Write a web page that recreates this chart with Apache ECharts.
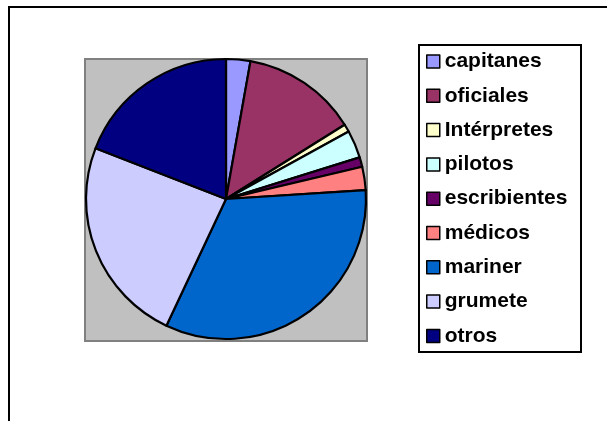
<!DOCTYPE html>
<html>
<head>
<meta charset="utf-8">
<script src="https://cdn.jsdelivr.net/npm/echarts@6/dist/echarts.min.js"></script>
<style>html,body{margin:0;padding:0;background:#fff}#c{width:607px;height:421px}</style>
</head>
<body>
<div id="c"></div>
<script>
const categories = ['capitanes','oficiales','Intérpretes','pilotos','escribientes','médicos','mariner','grumete','otros'];
const values = [2.8, 13.3, 0.9, 3.2, 1.1, 2.7, 33.0, 23.9, 19.1];
const colors = ['#9999FF','#993366','#FFFFCC','#CCFFFF','#660066','#FF8080','#0066CC','#CCCCFF','#000080'];

const chart = echarts.init(document.getElementById('c'), null, {renderer:'canvas'});
chart.setOption({
  animation: false,
  backgroundColor: '#fff',
  color: colors,
  graphic: [
    {type:'line', shape:{x1:8,y1:7,x2:607,y2:7}, style:{stroke:'#000',lineWidth:2}},
    {type:'line', shape:{x1:9,y1:6,x2:9,y2:421}, style:{stroke:'#000',lineWidth:2}},
    {type:'rect', shape:{x:85,y:59,width:282,height:282}, style:{fill:'#C0C0C0',stroke:'#808080',lineWidth:2}, z:-10},
    {type:'rect', shape:{x:419,y:45,width:162,height:307}, style:{fill:'#fff',stroke:'#000',lineWidth:2}, z:-10}
  ],
  legend: {
    orient: 'vertical',
    left: 426,
    top: 51,
    padding: 0,
    itemWidth: 13,
    itemHeight: 13,
    itemGap: 13.3,
    icon: 'rect',
    itemStyle: {borderColor:'#000', borderWidth:1.5},
    textStyle: {fontFamily:'Liberation Sans, Arial, sans-serif', fontWeight:'bold', fontSize:21, color:'#000'},
    data: categories
  },
  series: [{
    type: 'pie',
    center: [226, 199],
    radius: 140,
    startAngle: 90,
    clockwise: true,
    label: {show:false},
    labelLine: {show:false},
    emphasis: {disabled:true},
    itemStyle: {borderColor:'#000', borderWidth:2.2},
    data: categories.map((n,i)=>({name:n, value:values[i]}))
  }]
});
</script>
</body>
</html>
